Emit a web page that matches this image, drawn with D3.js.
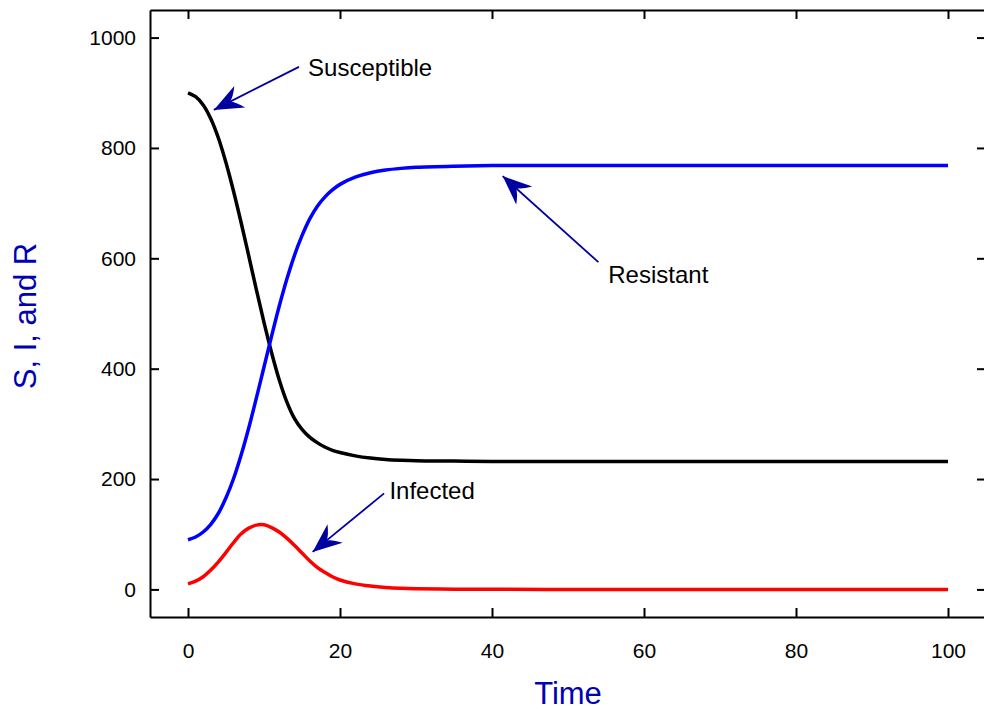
<!DOCTYPE html>
<html lang="en">
	<head>
		<meta charset="utf-8">
		<title>SIR model</title>
		<script type="text/javascript" src="https://d3js.org/d3.v7.min.js"></script>
		<style type="text/css">
			body { margin: 0; background: white; }
			text { font-family: "Liberation Sans", Arial, sans-serif; }
		</style>
	</head>
	<body>
		<script type="text/javascript">

			// data
			var time        = [0, 1, 2, 3, 4, 5, 6, 7, 8, 9, 10, 11, 12, 13, 14, 15, 16, 17, 18, 19, 20, 22, 24, 26, 28, 30, 35, 40, 50, 60, 70, 80, 90, 100];
			var susceptible = [900, 893, 878, 853, 818, 773, 721, 664, 604, 543, 484, 429, 380, 340, 310, 290, 276, 266, 258, 252, 248, 242, 238, 235.5, 234, 233, 232.5, 232, 232, 232, 232, 232, 232, 232];
			var infected    = [10, 15, 23, 35, 50, 67, 85, 101, 111, 116.5, 117, 112, 104, 93, 80, 66, 52, 40, 31, 23, 17, 10, 6, 3.5, 2, 1.2, 0.4, 0.1, 0, 0, 0, 0, 0, 0];
			var resistant   = [90, 95, 104, 118, 138, 166, 201, 244, 293, 347, 403, 459, 513, 562, 605, 641, 671, 694, 711, 724, 734, 747, 755, 760, 763, 765, 767, 768, 768, 768, 768, 768, 768, 768];

			var xTicks = [0, 20, 40, 60, 80, 100];
			var yTicks = [0, 200, 400, 600, 800, 1000];

			// annotations: label, arrow tip (t, value), arrow tail (t, value), text anchor (t, value)
			var notes = [
				{ label: "Susceptible", tip: [3.4, 869], tail: [14.6, 947], text: [15.8, 931] },
				{ label: "Resistant",   tip: [41.4, 749], tail: [54.0, 593], text: [55.3, 556] },
				{ label: "Infected",    tip: [16.4, 68],  tail: [25.8, 174], text: [26.5, 163] }
			];

			//Width and height
			var w = 984;
			var h = 713;
			var mLeft = 150, mRight = 986, mTop = 10, mBottom = 617;

			var x = d3.scaleLinear().domain([-5, 105]).range([mLeft, mRight]);
			var y = d3.scaleLinear().domain([-50, 1050]).range([mBottom, mTop]);

			var svg = d3.select("body")
						.append("svg")
						.attr("width", w)
						.attr("height", h);

			//Curves
			var series = [
				{ values: susceptible, color: "#000000" },
				{ values: resistant,   color: "#0000ff" },
				{ values: infected,    color: "#ff0000" }
			];

			var line = d3.line()
						.x(function(d) { return x(d[0]); })
						.y(function(d) { return y(d[1]); })
						.curve(d3.curveCatmullRom.alpha(0.5));

			svg.selectAll("path.curve")
				.data(series)
				.enter()
				.append("path")
				.attr("class", "curve")
				.attr("fill", "none")
				.attr("stroke", function(d) { return d.color; })
				.attr("stroke-width", 3.5)
				.attr("d", function(d) {
					return line(time.map(function(t, i) { return [t, d.values[i]]; }));
				});

			//Frame with inward ticks on all sides
			var tickSize = 9;
			var axes = [
				d3.axisBottom(x).tickValues(xTicks).tickSizeInner(-tickSize).tickSizeOuter(0).tickPadding(26),
				d3.axisTop(x).tickValues(xTicks).tickSizeInner(-tickSize).tickSizeOuter(0).tickFormat(""),
				d3.axisLeft(y).tickValues(yTicks).tickSizeInner(-tickSize).tickSizeOuter(0).tickPadding(14).tickFormat(d3.format("d")),
				d3.axisRight(y).tickValues(yTicks).tickSizeInner(-tickSize).tickSizeOuter(0).tickFormat("")
			];
			var shifts = ["translate(0," + mBottom + ")", "translate(0," + mTop + ")",
						  "translate(" + mLeft + ",0)", "translate(" + mRight + ",0)"];

			axes.forEach(function(a, i) {
				var g = svg.append("g")
						.attr("transform", shifts[i])
						.call(a);
				g.select(".domain").attr("stroke", "#000").attr("stroke-width", 2);
				g.selectAll(".tick line").attr("stroke", "#000").attr("stroke-width", 2);
				g.selectAll(".tick text")
					.attr("fill", "#000")
					.style("font-size", "21px");
			});

			//Axis titles
			svg.append("text")
				.attr("x", (mLeft + mRight) / 2)
				.attr("y", 704)
				.attr("text-anchor", "middle")
				.attr("fill", "#0000b4")
				.style("font-size", "31px")
				.text("Time");

			svg.append("text")
				.attr("transform", "translate(36,316) rotate(-90)")
				.attr("text-anchor", "middle")
				.attr("fill", "#0000b4")
				.style("font-size", "31px")
				.text("S, I, and R");

			//Annotations
			var arrowColor = "#0000a0";

			function headPath(tip, tail) {
				var dx = tail[0] - tip[0], dy = tail[1] - tip[1];
				var len = Math.sqrt(dx * dx + dy * dy);
				var ux = dx / len, uy = dy / len;
				var nx = -uy, ny = ux;
				var L = 29, W = 12, notch = 18;
				var b1 = [tip[0] + ux * L + nx * W, tip[1] + uy * L + ny * W];
				var b2 = [tip[0] + ux * L - nx * W, tip[1] + uy * L - ny * W];
				var n  = [tip[0] + ux * notch, tip[1] + uy * notch];
				var c1 = [tip[0] + ux * (notch + 5) + nx * 2.5, tip[1] + uy * (notch + 5) + ny * 2.5];
				var c2 = [tip[0] + ux * (notch + 5) - nx * 2.5, tip[1] + uy * (notch + 5) - ny * 2.5];
				return "M" + tip + "L" + b1 + "Q" + c1 + " " + n + "Q" + c2 + " " + b2 + "Z";
			}

			var ann = svg.selectAll("g.note")
						.data(notes)
						.enter()
						.append("g")
						.attr("class", "note");

			ann.append("line")
				.attr("x1", function(d) { return x(d.tail[0]); })
				.attr("y1", function(d) { return y(d.tail[1]); })
				.attr("x2", function(d) { return x(d.tip[0]); })
				.attr("y2", function(d) { return y(d.tip[1]); })
				.attr("stroke", arrowColor)
				.attr("stroke-width", 1.8);

			ann.append("path")
				.attr("fill", arrowColor)
				.attr("d", function(d) {
					return headPath([x(d.tip[0]), y(d.tip[1])], [x(d.tail[0]), y(d.tail[1])]);
				});

			ann.append("text")
				.attr("x", function(d) { return x(d.text[0]); })
				.attr("y", function(d) { return y(d.text[1]); })
				.attr("fill", "#000")
				.style("font-size", "24px")
				.text(function(d) { return d.label; });

		</script>
	</body>
</html>
